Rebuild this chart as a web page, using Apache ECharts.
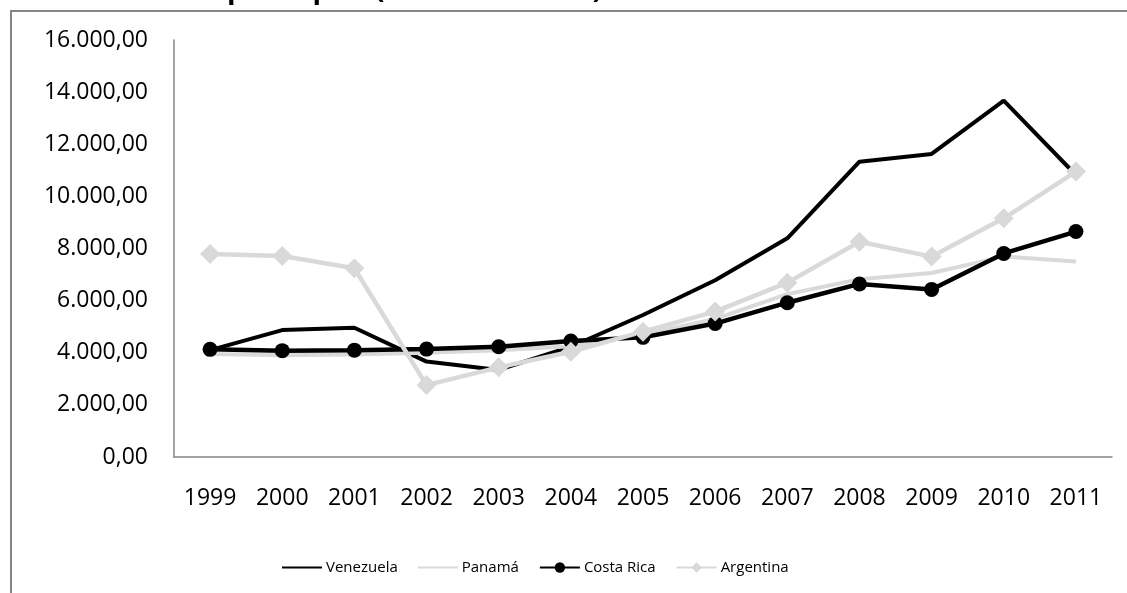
<!DOCTYPE html>
<html>
<head>
<meta charset="utf-8">
<script src="https://cdn.jsdelivr.net/npm/echarts@6/dist/echarts.min.js"></script>
<style>
html,body{margin:0;padding:0;background:#fff;}
#c{width:1127px;height:593px;}
</style>
</head>
<body>
<div id="c"></div>
<script>
const years = ['1999','2000','2001','2002','2003','2004','2005','2006','2007','2008','2009','2010','2011'];
const venezuela = [4100, 4870, 4960, 3660, 3340, 4230, 5450, 6780, 8390, 11330, 11630, 13670, 10820];
const panama = [3950, 3900, 3930, 4000, 4100, 4250, 4700, 5300, 6250, 6820, 7060, 7690, 7500];
const costaRica = [4130, 4080, 4100, 4140, 4230, 4450, 4590, 5120, 5920, 6640, 6430, 7810, 8650];
const argentina = [7790, 7710, 7240, 2760, 3440, 4040, 4810, 5580, 6690, 8260, 7690, 9160, 10950];
const seriesNames = ['Venezuela', 'Panamá', 'Costa Rica', 'Argentina'];
const titleText = 'PIB per cápita (USD corrientes)';

function fmt(v) {
  const s = Math.round(v).toString().replace(/\B(?=(\d{3})+(?!\d))/g, '.');
  return s + ',00';
}

const lineIcon = 'path://M0,0L0.01,0M0,14L0.01,14M0,5.5H54V8.5H0Z';
const font = '"Open Sans", sans-serif';
const chart = echarts.init(document.getElementById('c'), null, {renderer: 'canvas'});
chart.setOption({
  animation: false,
  backgroundColor: '#fff',
  graphic: [
    {type: 'rect', shape: {x: 11, y: 11, width: 1400, height: 900}, style: {fill: 'none', stroke: '#868686', lineWidth: 2}, z: 0},
    {type: 'text', left: 174, top: -24, style: {text: titleText, font: 'bold 28px "Open Sans", sans-serif', fill: '#000'}, z: 10}
  ],
  grid: {left: 174, right: 15, top: 40, bottom: 136},
  xAxis: {
    type: 'category',
    data: years,
    boundaryGap: true,
    axisLine: {lineStyle: {color: '#868686', width: 1.5}},
    axisTick: {show: false},
    axisLabel: {color: '#000', fontSize: 23, fontFamily: font, margin: 30, interval: 0}
  },
  yAxis: {
    type: 'value',
    min: 0, max: 16000, interval: 2000,
    axisLine: {show: true, lineStyle: {color: '#868686', width: 1.5}},
    axisTick: {show: false},
    splitLine: {show: false},
    axisLabel: {color: '#000', fontSize: 23, fontFamily: font, margin: 26, formatter: fmt}
  },
  legend: {
    left: 277,
    top: 555,
    itemWidth: 40,
    itemHeight: 13,
    itemGap: 20,
    textStyle: {color: '#000', fontSize: 15, fontFamily: font, padding: [0, 0, 0, -1]},
    data: [
      {name: seriesNames[0], icon: lineIcon},
      {name: seriesNames[1], icon: lineIcon},
      {name: seriesNames[2]},
      {name: seriesNames[3]}
    ]
  },
  series: [
    {name: seriesNames[0], type: 'line', data: venezuela, symbol: 'none', lineStyle: {color: '#000', width: 4}, itemStyle: {color: '#000'}},
    {name: seriesNames[1], type: 'line', data: panama, symbol: 'none', lineStyle: {color: '#d9d9d9', width: 4}, itemStyle: {color: '#d9d9d9'}},
    {name: seriesNames[2], type: 'line', data: costaRica, symbol: 'circle', symbolSize: 15, lineStyle: {color: '#000', width: 4.5}, itemStyle: {color: '#000'}},
    {name: seriesNames[3], type: 'line', data: argentina, symbol: 'diamond', symbolSize: 20, lineStyle: {color: '#d9d9d9', width: 4.5}, itemStyle: {color: '#d9d9d9'}}
  ]
});
</script>
</body>
</html>
